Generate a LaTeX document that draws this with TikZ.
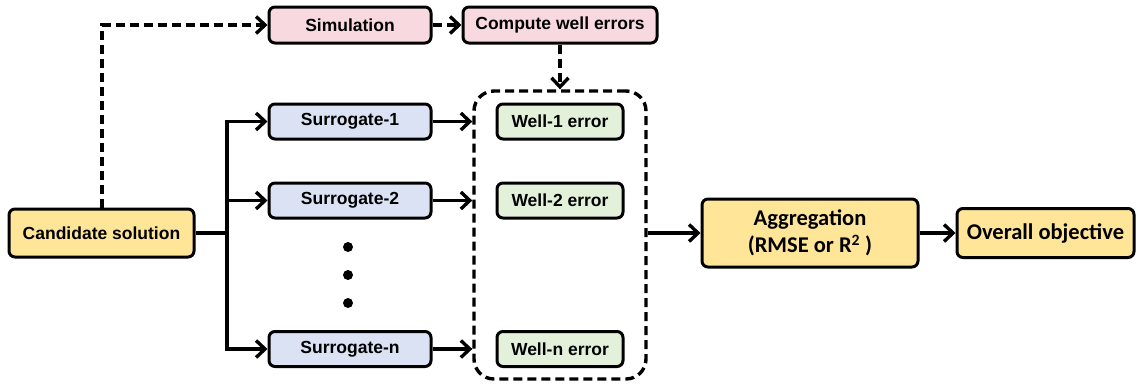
\documentclass[tikz,border=0pt]{standalone}
\usepackage{fontspec}
\setmainfont{Liberation Sans}
\newfontfamily\calibrifont{Carlito}
\usetikzlibrary{arrows.meta}
\definecolor{pinkfill}{HTML}{F9D9E0}
\definecolor{bluefill}{HTML}{DAE2F4}
\definecolor{greenfill}{HTML}{E3F1DA}
\definecolor{yellowfill}{HTML}{FFE598}
\tikzset{
  box/.style={draw, line width=3pt, rounded corners=6pt, inner sep=0pt, align=center,
    font=\fontsize{17.5}{20}\selectfont\bfseries},
  simbox/.style={box, fill=pinkfill, minimum height=36pt},
  surbox/.style={box, fill=bluefill, minimum width=162pt, minimum height=35pt},
  wellbox/.style={box, fill=greenfill, minimum width=126pt, minimum height=35pt},
  candbox/.style={box, fill=yellowfill},
  calbox/.style={box, fill=yellowfill, font=\calibrifont\fontsize{22.5}{27}\selectfont\bfseries},
  conn/.style={line width=3.4pt, -{Straight Barb[length=9pt,width=17pt,line width=3.4pt]}},
  dconn/.style={conn, dash pattern=on 9pt off 5pt},
  plain/.style={line width=3.4pt},
  dotmark/.style={circle, fill=black, inner sep=0pt, minimum size=10pt}
}
\begin{document}
\begin{tikzpicture}[x=1pt,y=-1pt]
\useasboundingbox (0,0) rectangle (1138,384);
% nodes
\node[candbox, minimum width=185pt, minimum height=48pt] (cand) at (101.5,233) {Candidate solution};
\node[simbox, minimum width=162pt] (sim) at (350,25) {Simulation};
\node[simbox, minimum width=194pt] (comp) at (560,25) {Compute well errors};
\node[surbox] (s1) at (350,121.5) {Surrogate-1};
\node[surbox] (s2) at (350,200.5) {Surrogate-2};
\node[surbox] (sn) at (350,349) {Surrogate-n};
\node[wellbox] (w1) at (560,121.5) {Well-1 error};
\node[wellbox] (w2) at (560,200.5) {Well-2 error};
\node[wellbox] (wn) at (560,349) {Well-n error};
\node[draw, line width=3.4pt, dash pattern=on 9pt off 5pt, rounded corners=20pt,
      minimum width=172pt, minimum height=288pt, inner sep=0pt] (grp) at (560,235) {};
\node[calbox, minimum width=216pt, minimum height=68pt] (agg) at (810,233)
  {Aggregation\\(RMSE or R\textsuperscript{2} )};
\node[calbox, minimum width=177pt, minimum height=49pt] (obj) at (1045.5,233) {Overall objective};
\node[dotmark] (d1) at (348,247) {};
\node[dotmark] (d2) at (348,275) {};
\node[dotmark] (d3) at (348,303) {};
% branch coordinates
\coordinate (br) at (227,233);
\coordinate (brtop) at (227,121.5);
\coordinate (brbot) at (227,349);
\coordinate (up) at (102,25);
% connectors
\draw[plain] (cand.east) -- (br);
\draw[plain, line cap=rect] (brtop) -- (brbot);
\draw[conn] (brtop) -- (s1.west);
\draw[conn] (227,200.5) -- (s2.west);
\draw[conn] (brbot) -- (sn.west);
\draw[conn] (s1.east) -- (s1.east -| grp.west);
\draw[conn] (s2.east) -- (s2.east -| grp.west);
\draw[conn] (sn.east) -- (sn.east -| grp.west);
\draw[dconn] (cand.north -| up) -- (up) -- (sim.west);
\draw[dconn] (sim.east) -- (comp.west);
\draw[dconn] (comp.south) -- (grp.north);
\draw[conn] (grp.east |- agg.west) -- (agg.west);
\draw[conn] (agg.east) -- (obj.west);
\end{tikzpicture}
\end{document}
